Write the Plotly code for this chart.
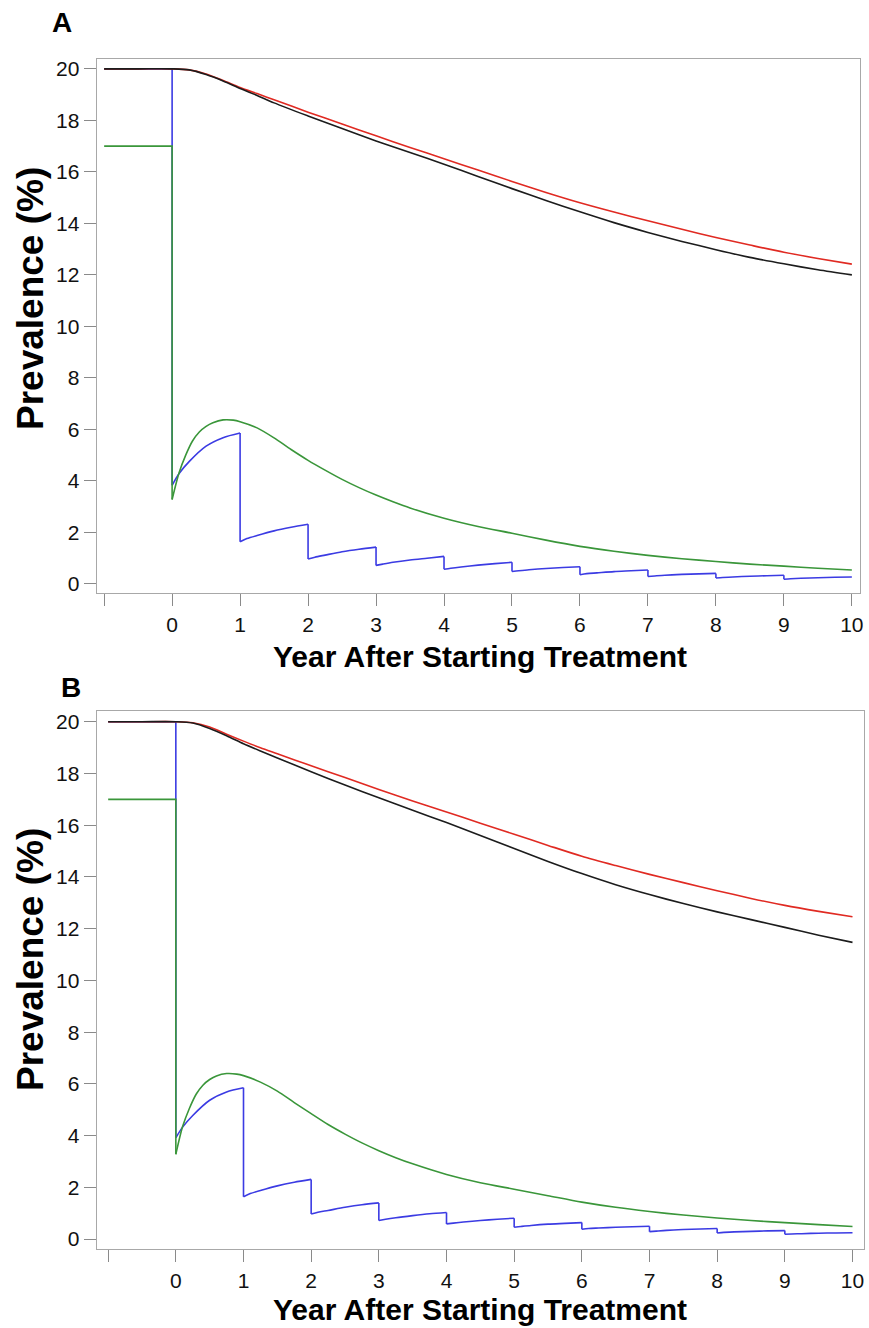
import plotly.graph_objects as go

# ---------------- data ----------------
years_smooth = [-1, -0.5, 0, 0.25, 0.5, 0.75, 1, 1.25, 1.5, 2, 2.5, 3, 3.5, 4, 4.5, 5,
                5.5, 6, 6.5, 7, 7.5, 8, 8.5, 9, 9.5, 10]

a_red   = [20, 20, 20, 19.96, 19.8, 19.55, 19.28, 19.04, 18.8, 18.32, 17.86, 17.4, 16.95, 16.51, 16.07, 15.63,
           15.2, 14.8, 14.44, 14.1, 13.77, 13.45, 13.16, 12.88, 12.64, 12.42]
a_black = [20, 20, 20, 19.96, 19.78, 19.53, 19.24, 18.97, 18.68, 18.17, 17.68, 17.2, 16.75, 16.3, 15.82, 15.35,
           14.89, 14.45, 14.03, 13.65, 13.3, 12.98, 12.68, 12.43, 12.2, 12.0]
b_red   = [20, 20, 20, 19.96, 19.8, 19.52, 19.25, 18.99, 18.76, 18.3, 17.84, 17.38, 16.94, 16.51, 16.08, 15.65,
           15.22, 14.8, 14.44, 14.1, 13.78, 13.47, 13.17, 12.9, 12.67, 12.46]
b_black = [20, 20, 20, 19.95, 19.74, 19.46, 19.15, 18.87, 18.6, 18.07, 17.55, 17.06, 16.58, 16.1, 15.6, 15.1,
           14.6, 14.13, 13.7, 13.32, 12.97, 12.65, 12.35, 12.05, 11.75, 11.47]

green_pre_years = [-1, 0, 0]
a_green_pre = [17, 17, 3.28]
b_green_pre = [17, 17, 3.28]

green_years = [0, 0.1, 0.2, 0.3, 0.4, 0.5, 0.6, 0.75, 0.9, 1.0, 1.25, 1.5, 1.75, 2, 2.25, 2.5,
               2.75, 3, 3.25, 3.5, 4, 4.5, 5, 5.5, 6, 6.5, 7, 7.5, 8, 8.5, 9, 9.5, 10]
a_green = [3.28, 4.3, 5.0, 5.55, 5.9, 6.12, 6.26, 6.37, 6.36, 6.3, 6.06, 5.67, 5.22, 4.8, 4.42, 4.06,
           3.74, 3.45, 3.19, 2.95, 2.55, 2.23, 1.97, 1.7, 1.46, 1.27, 1.11, 0.98, 0.87, 0.77, 0.69, 0.61, 0.54]
b_green = [3.28, 4.35, 5.05, 5.6, 5.95, 6.17, 6.31, 6.4, 6.38, 6.32, 6.07, 5.72, 5.28, 4.85, 4.43, 4.06,
           3.72, 3.42, 3.15, 2.91, 2.5, 2.18, 1.93, 1.68, 1.43, 1.23, 1.07, 0.93, 0.82, 0.72, 0.64, 0.56, 0.49]

blue_pre_years = [-1, 0]
blue_pre = [20, 20]

# sawtooth: one segment per treatment year (fractions within the year)
blue_seg_frac = [0, 0.1, 0.25, 0.5, 0.75, 1]
a_blue_segs = [
    [3.83, 4.28, 4.75, 5.35, 5.68, 5.86],
    [1.64, 1.76, 1.88, 2.06, 2.2, 2.32],
    [0.97, 1.04, 1.12, 1.25, 1.35, 1.43],
    [0.72, 0.77, 0.84, 0.93, 1.0, 1.07],
    [0.57, 0.61, 0.66, 0.73, 0.79, 0.84],
    [0.48, 0.51, 0.55, 0.6, 0.64, 0.67],
    [0.36, 0.4, 0.43, 0.48, 0.51, 0.54],
    [0.29, 0.31, 0.34, 0.37, 0.39, 0.41],
    [0.23, 0.25, 0.27, 0.3, 0.32, 0.34],
    [0.18, 0.2, 0.22, 0.24, 0.26, 0.27],
]
b_blue_segs = [
    [3.92, 4.33, 4.78, 5.37, 5.69, 5.85],
    [1.64, 1.76, 1.88, 2.06, 2.2, 2.31],
    [0.97, 1.04, 1.11, 1.23, 1.33, 1.4],
    [0.72, 0.77, 0.83, 0.91, 0.98, 1.03],
    [0.59, 0.62, 0.66, 0.72, 0.77, 0.81],
    [0.46, 0.49, 0.53, 0.58, 0.61, 0.64],
    [0.38, 0.41, 0.43, 0.46, 0.48, 0.5],
    [0.29, 0.31, 0.34, 0.37, 0.39, 0.41],
    [0.24, 0.26, 0.28, 0.3, 0.32, 0.33],
    [0.19, 0.2, 0.21, 0.23, 0.24, 0.25],
]

x_tickvals = [-1, 0, 1, 2, 3, 4, 5, 6, 7, 8, 9, 10]
x_ticktext = ["", "0", "1", "2", "3", "4", "5", "6", "7", "8", "9", "10"]
y_tickvals = [0, 2, 4, 6, 8, 10, 12, 14, 16, 18, 20]

x_title = "Year After Starting Treatment"
y_title = "Prevalence (%)"

# ---------------- styling ----------------
RED = "#e02a22"
BLACK = "#1c1c1c"
GREEN = "#3a963a"
BLUE = "#3b3be3"
LW = 1.6
FONT = "Liberation Sans, Arial, sans-serif"

W, H = 869, 1328
fig = go.Figure()


def blue_traces(segs, xa, ya):
    # curved parts of the sawtooth
    cx, cy = [], []
    for k, seg in enumerate(segs):
        for f, v in zip(blue_seg_frac, seg):
            cx.append(k + f)
            cy.append(v)
        cx.append(None)
        cy.append(None)
    # pre-treatment flat + vertical drops
    dx, dy = list(blue_pre_years), list(blue_pre)
    dx += [0, None]
    dy += [segs[0][0], None]
    for k in range(1, len(segs)):
        dx += [k, k, None]
        dy += [segs[k - 1][-1], segs[k][0], None]
    return [
        go.Scatter(x=dx, y=dy, mode="lines", line=dict(color=BLUE, width=LW),
                   xaxis=xa, yaxis=ya, showlegend=False, connectgaps=False),
        go.Scatter(x=cx, y=cy, mode="lines", line=dict(color=BLUE, width=LW, shape="spline", smoothing=0.8),
                   xaxis=xa, yaxis=ya, showlegend=False, connectgaps=False),
    ]


def panel(red, black, green_pre, green, bsegs, xa, ya):
    for t in blue_traces(bsegs, xa, ya):
        fig.add_trace(t)
    fig.add_trace(go.Scatter(x=green_pre_years, y=green_pre, mode="lines",
                             line=dict(color=GREEN, width=LW), xaxis=xa, yaxis=ya, showlegend=False))
    fig.add_trace(go.Scatter(x=green_years, y=green, mode="lines",
                             line=dict(color=GREEN, width=LW, shape="spline", smoothing=0.8),
                             xaxis=xa, yaxis=ya, showlegend=False))
    fig.add_trace(go.Scatter(x=years_smooth, y=red, mode="lines",
                             line=dict(color=RED, width=LW, shape="spline", smoothing=0.8),
                             xaxis=xa, yaxis=ya, showlegend=False))
    fig.add_trace(go.Scatter(x=years_smooth, y=black, mode="lines",
                             line=dict(color=BLACK, width=LW, shape="spline", smoothing=0.8),
                             xaxis=xa, yaxis=ya, showlegend=False))


panel(a_red, a_black, a_green_pre, a_green, a_blue_segs, "x", "y")
panel(b_red, b_black, b_green_pre, b_green, b_blue_segs, "x2", "y2")

axis_common = dict(showgrid=False, zeroline=False, showline=True, mirror=True,
                   linecolor="#a8a8a8", linewidth=1.3, ticks="outside", ticklen=12,
                   tickwidth=1.3, tickcolor="#8a8a8a",
                   tickfont=dict(family=FONT, size=21, color="#111111"))

fig.update_layout(
    width=W, height=H,
    margin=dict(l=0, r=0, t=0, b=0),
    paper_bgcolor="white", plot_bgcolor="white",
    xaxis=dict(domain=[97 / W, 863 / W], range=[-1.11, 10.12], tickvals=x_tickvals,
               ticktext=x_ticktext, anchor="y", **axis_common),
    yaxis=dict(domain=[1 - 593 / H, 1 - 57 / H], range=[-0.36, 20.39], tickvals=y_tickvals,
               anchor="x", **axis_common),
    xaxis2=dict(domain=[97 / W, 867 / W], range=[-1.17, 10.17], tickvals=x_tickvals,
                ticktext=x_ticktext, anchor="y2", **axis_common),
    yaxis2=dict(domain=[1 - 1251 / H, 1 - 711 / H], range=[-0.39, 20.42], tickvals=y_tickvals,
                anchor="x2", **axis_common),
)

lab_font = dict(family=FONT, size=28, color="black")
xt_font = dict(family=FONT, size=30, color="black")
yt_font = dict(family=FONT, size=37, color="black")
annotations = [
    dict(text="<b>A</b>", x=62 / W, y=1 - 21 / H, xref="paper", yref="paper",
         showarrow=False, xanchor="center", yanchor="middle", font=lab_font),
    dict(text="<b>B</b>", x=71 / W, y=1 - 688 / H, xref="paper", yref="paper",
         showarrow=False, xanchor="center", yanchor="middle", font=lab_font),
    dict(text="<b>" + x_title + "</b>", x=482 / W, y=1 - 656 / H, xref="paper", yref="paper",
         showarrow=False, xanchor="center", yanchor="middle", font=xt_font),
    dict(text="<b>" + x_title + "</b>", x=482 / W, y=1 - 1311 / H, xref="paper", yref="paper",
         showarrow=False, xanchor="center", yanchor="middle", font=xt_font),
    dict(text="<b>" + y_title + "</b>", x=30 / W, y=1 - 297 / H, xref="paper", yref="paper",
         showarrow=False, xanchor="center", yanchor="middle", textangle=-90, font=yt_font),
    dict(text="<b>" + y_title + "</b>", x=30 / W, y=1 - 960 / H, xref="paper", yref="paper",
         showarrow=False, xanchor="center", yanchor="middle", textangle=-90, font=yt_font),
]
fig.update_layout(annotations=annotations)

fig.write_html(
    "out.html",
    config={"displayModeBar": False},
    post_script="document.body.style.margin='0';document.body.style.padding='0';"
                "document.documentElement.style.overflow='hidden';document.body.style.overflow='hidden';",
)
